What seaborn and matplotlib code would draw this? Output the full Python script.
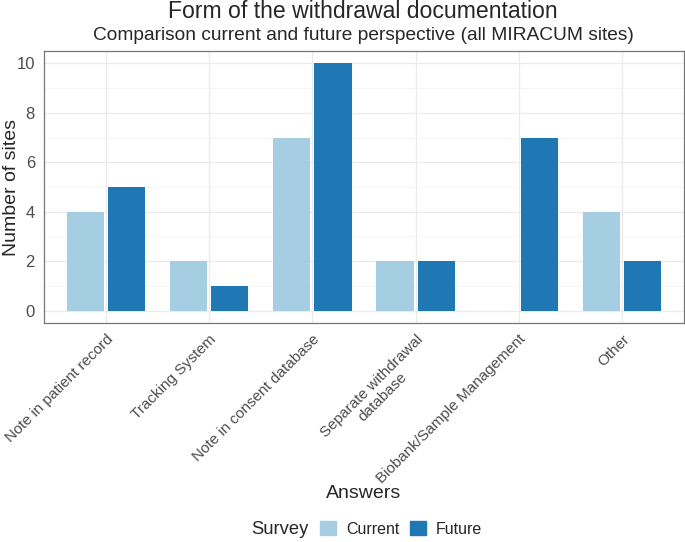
import pandas as pd
import seaborn as sns
import matplotlib.pyplot as plt
from matplotlib.ticker import MultipleLocator

answers = ["Note in patient record", "Tracking System", "Note in consent database",
           "Separate withdrawal\ndatabase", "Biobank/Sample Management", "Other"]
current = [4, 2, 7, 2, 0, 4]
future = [5, 1, 10, 2, 7, 2]
surveys = ["Current", "Future"]
colors = ["#A6CEE3", "#1F78B4"]

df = pd.DataFrame({
    "answer": answers * 2,
    "survey": ["Current"] * len(answers) + ["Future"] * len(answers),
    "sites": current + future,
})

sns.set_style("white")
plt.rcParams["font.family"] = ["Liberation Sans", "DejaVu Sans"]

W, H = 685, 542
fig = plt.figure(figsize=(W / 100, H / 100), dpi=100)
ax = fig.add_axes([44 / W, 1 - 323 / H, 640 / W, 272 / H])

sns.barplot(data=df, x="answer", y="sites", hue="survey", hue_order=surveys,
            palette=colors, saturation=1, width=0.8, gap=0.1, ax=ax, linewidth=0)

ax.set_ylim(-0.5, 10.5)
ax.set_xlim(-0.6, 5.6)
ax.yaxis.set_major_locator(MultipleLocator(2))
ax.yaxis.set_minor_locator(MultipleLocator(1))
ax.set_axisbelow(True)
ax.grid(True, which="major", color="#EBEBEB", linewidth=0.9)
ax.grid(True, which="minor", axis="y", color="#F4F4F4", linewidth=0.6)
for s in ax.spines.values():
    s.set_color("#777777")
    s.set_linewidth(0.9)
ax.tick_params(axis="both", which="major", length=3, color="#555555",
               labelsize=11, labelcolor="#4D4D4D")
ax.tick_params(axis="y", which="minor", length=0)
ax.tick_params(axis="y", labelsize=12)
for lab in ax.get_xticklabels():
    lab.set_rotation(45)
    lab.set_ha("right")
    lab.set_va("top")
    lab.set_multialignment("center")
    lab.set_rotation_mode("anchor")

ax.set_xlabel("Answers", fontsize=14)
ax.set_ylabel("Number of sites", fontsize=14)
ax.xaxis.set_label_coords(0.5, (323 - 493) / 272, transform=ax.transAxes)
ax.yaxis.set_label_coords(-32 / 640, 0.5)
ax.xaxis.label.set_va("center")
ax.yaxis.label.set_va("center")

fig.text(363 / W, 1 - 12 / H, "Form of the withdrawal documentation", ha="center",
         va="center", fontsize=16.6)
fig.text(363 / W, 1 - 36 / H, "Comparison current and future perspective (all MIRACUM sites)",
         ha="center", va="center", fontsize=13.8)

ax.legend_.remove()
fig.text(251 / W, 1 - 529 / H, "Survey", ha="left", va="center", fontsize=13.2)
handles = [plt.Rectangle((0, 0), 1, 1, color=c) for c in colors]
fig.legend(handles, surveys, loc="center left", bbox_to_anchor=(306 / W, 1 - 529 / H),
           ncol=2, frameon=False, fontsize=11.5, handlelength=1.0,
           handleheight=1.0, columnspacing=0.63, handletextpad=0.63)

fig.savefig("out.png", dpi=100)
